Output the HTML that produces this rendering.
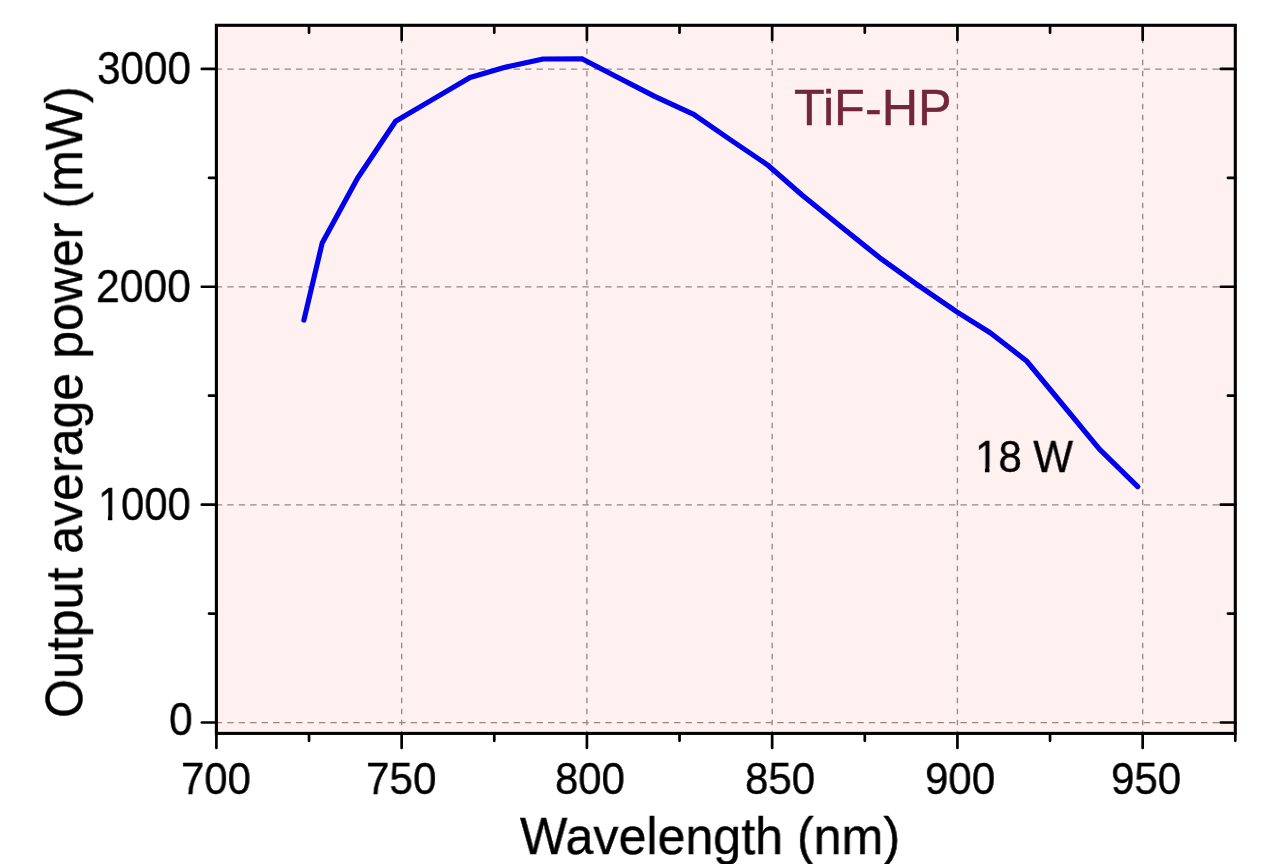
<!DOCTYPE html>
<html><head><meta charset="utf-8"><title>TiF-HP tuning curve</title>
<style>
html,body{margin:0;padding:0;background:#fff;}
body{width:1280px;height:864px;overflow:hidden;position:relative;font-family:"Liberation Sans",sans-serif;color:#000;}
svg{position:absolute;left:0;top:0;}
.t{position:absolute;line-height:1;white-space:nowrap;transform-origin:0 0;will-change:transform;-webkit-text-stroke:0.4px currentColor;}
</style></head>
<body>
<svg width="1280" height="864" viewBox="0 0 1280 864">
<rect x="216.4" y="25.3" width="1018.90" height="708.10" fill="#fff1f0"/>
<path d="M401.65 25.3 V733.4 M586.91 25.3 V733.4 M772.16 25.3 V733.4 M957.42 25.3 V733.4 M1142.67 25.3 V733.4" fill="none" stroke="#938888" stroke-width="1.3" stroke-dasharray="5.6 5.4" stroke-dashoffset="-1.4"/>
<path d="M216.4 722.66 H1235.3 M216.4 504.78 H1235.3 M216.4 286.90 H1235.3 M216.4 69.03 H1235.3" fill="none" stroke="#938888" stroke-width="1.3" stroke-dasharray="6.4 5.056" stroke-dashoffset="0.6"/>
<path d="M303.9 320.1 L322.2 243.0 L357.5 178.2 L395.6 121.2 L432.8 99.4 L470.0 77.5 L505.0 67.3 L543.1 59.0 L581.9 58.7 L618.0 77.5 L654.7 96.4 L693.7 114.3 L730.0 139.5 L767.4 164.8 L801.7 194.8 L840.2 226.0 L879.5 257.6 L916.8 284.3 L956.9 311.9 L990.2 332.7 L1026.6 361.0 L1063.0 405.0 L1099.4 449.2 L1137.7 486.6" fill="none" stroke="#0000ee" stroke-width="5.15" stroke-linejoin="round" stroke-linecap="round"/>
<path d="M216.40 733.4 v14.6 M309.03 733.4 v7.4 M309.03 25.3 v7.4 M401.65 733.4 v14.6 M401.65 25.3 v14.6 M494.28 733.4 v7.4 M494.28 25.3 v7.4 M586.91 733.4 v14.6 M586.91 25.3 v14.6 M679.54 733.4 v7.4 M679.54 25.3 v7.4 M772.16 733.4 v14.6 M772.16 25.3 v14.6 M864.79 733.4 v7.4 M864.79 25.3 v7.4 M957.42 733.4 v14.6 M957.42 25.3 v14.6 M1050.05 733.4 v7.4 M1050.05 25.3 v7.4 M1142.67 733.4 v14.6 M1142.67 25.3 v14.6 M1235.30 733.4 v7.4 M216.4 722.51 h-14.6 M1235.3 722.51 h-14.6 M216.4 613.57 h-7.4 M1235.3 613.57 h-7.4 M216.4 504.63 h-14.6 M1235.3 504.63 h-14.6 M216.4 395.69 h-7.4 M1235.3 395.69 h-7.4 M216.4 286.75 h-14.6 M1235.3 286.75 h-14.6 M216.4 177.81 h-7.4 M1235.3 177.81 h-7.4 M216.4 68.88 h-14.6 M1235.3 68.88 h-14.6" fill="none" stroke="#000" stroke-width="2.7" stroke-linecap="round"/>
<rect x="216.4" y="25.3" width="1018.90" height="708.10" fill="none" stroke="#000" stroke-width="3.1"/>
</svg>
<div class="t" style="left:180.7px;top:757.42px;font-size:44.57px;transform:scaleX(0.9401)">700</div>
<div class="t" style="left:366.4px;top:757.42px;font-size:44.65px;transform:scaleX(0.9456)">750</div>
<div class="t" style="left:554.92px;top:757.42px;font-size:44.57px;transform:scaleX(0.9401)">800</div>
<div class="t" style="left:744.82px;top:757.42px;font-size:44.57px;transform:scaleX(0.9436)">850</div>
<div class="t" style="left:924.7px;top:757.42px;font-size:44.72px;transform:scaleX(0.9416)">900</div>
<div class="t" style="left:1110.6px;top:757.42px;font-size:44.57px;transform:scaleX(0.9436)">950</div>
<div class="t" style="left:96.95px;top:45.32px;font-size:46.44px;transform:scaleX(0.9088)">3000</div>
<div class="t" style="left:96.0px;top:263.32px;font-size:46.37px;transform:scaleX(0.9209)">2000</div>
<div class="t" style="left:98.15px;top:481.12px;font-size:46.44px;transform:scaleX(0.8966)">1000</div>
<div class="t" style="left:169.42px;top:696.52px;font-size:45.8px;transform:scaleX(0.9289)">0</div>
<div class="t" style="left:519.88px;top:810.82px;font-size:51.8px;transform:scaleX(0.9684)">Wavelength (nm)</div>
<div class="t" style="left:793.8px;top:83.22px;font-size:49.17px;color:#72263a;transform:scaleX(1.0253)">TiF-HP</div>
<div class="t" style="left:974.9px;top:435.38px;font-size:43.96px;transform:scaleX(0.9563)">18 W</div>
<div class="t" style="left:39.12px;top:717.72px;font-size:50.99px;transform:rotate(-90deg) scaleX(0.9821)">Output average power (mW)</div>
<svg class="ov" width="1280" height="864" viewBox="0 0 1280 864">
<path d="M976 467.60H984.93V474H976Z M989.48 467.60H999V474H989.48Z" fill="#fff1f0"/>
<path d="M99 515.60H107.96V522H99Z M112.32 515.60H121V522H112.32Z" fill="#fff"/>
</svg>
</body></html>
